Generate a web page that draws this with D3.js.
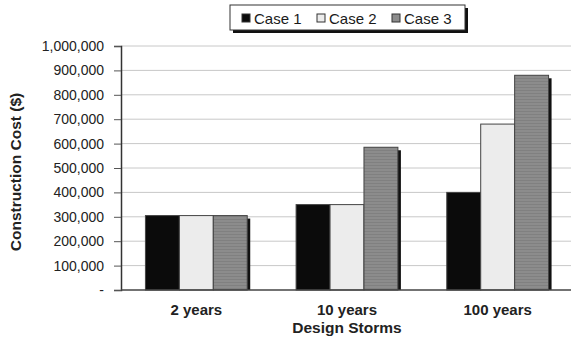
<!DOCTYPE html>
<html>
<head>
<meta charset="utf-8">
<script src="https://cdn.jsdelivr.net/npm/d3@7"></script>
<style>
  html, body { margin: 0; padding: 0; background: #fff; }
  svg { display: block; font-family: "Liberation Sans", Arial, sans-serif; }
</style>
</head>
<body>
<svg id="chart" width="571" height="343"></svg>
<script>
// Construction cost by design storm for three cases
const categories = ["2 years", "10 years", "100 years"];
const seriesNames = ["Case 1", "Case 2", "Case 3"];
const case1 = [305000, 350000, 400000];
const case2 = [305000, 350000, 680000];
const case3 = [305000, 585000, 880000];
const yTicks = [0, 100000, 200000, 300000, 400000, 500000, 600000, 700000, 800000, 900000, 1000000];

const seriesValues = [case1, case2, case3];
const fills = ["#0b0b0b", "#ececec", "#8c8c8c"];

const svg = d3.select("#chart");
const margin = { left: 121, right: -2, top: 46, bottom: 53 };
const W = 571, H = 343;

const x0 = d3.scaleBand().domain(categories).range([margin.left, W - margin.right]).paddingInner(0).paddingOuter(0);
const x1 = d3.scaleBand().domain(seriesNames).range([0, x0.bandwidth()]).paddingInner(0).paddingOuter(0.72);
const y = d3.scaleLinear().domain([0, 1000000]).range([H - margin.bottom, margin.top]);

// horizontal gridlines
svg.append("g").selectAll("line").data(yTicks.slice(1)).join("line")
  .attr("x1", margin.left).attr("x2", W)
  .attr("y1", d => y(d)).attr("y2", d => y(d))
  .attr("stroke", "#c8c8c8").attr("stroke-width", 1);

// gray bar stripe pattern
const defs = svg.append("defs");
const pat = defs.append("pattern").attr("id", "stripe").attr("patternUnits", "userSpaceOnUse")
  .attr("width", 4).attr("height", 3);
pat.append("rect").attr("width", 4).attr("height", 3).attr("fill", "#8c8c8c");
pat.append("rect").attr("width", 4).attr("height", 1).attr("fill", "#808080");

const fillFor = i => i === 2 ? "url(#stripe)" : fills[i];

// bars with a dark drop shadow on the right
const groups = svg.append("g").selectAll("g").data(categories).join("g")
  .attr("transform", c => `translate(${x0(c)},0)`);
groups.each(function (c, ci) {
  const g = d3.select(this);
  seriesNames.forEach((s, si) => {
    const v = seriesValues[si][ci];
    const bx = x1(s), bw = x1.bandwidth();
    g.append("rect")
      .attr("x", bx + 3).attr("y", y(v) + 3)
      .attr("width", bw).attr("height", y(0) - y(v) - 3)
      .attr("fill", "#111");
    g.append("rect")
      .attr("x", bx).attr("y", y(v))
      .attr("width", bw).attr("height", y(0) - y(v))
      .attr("fill", fillFor(si)).attr("stroke", "#444").attr("stroke-width", 1);
  });
});

// y axis
const yAxis = d3.axisLeft(y).tickValues(yTicks).tickSize(7).tickPadding(10)
  .tickFormat(d => d === 0 ? "-" : d3.format(",")(d));
const ya = svg.append("g").attr("transform", `translate(${margin.left},0)`).call(yAxis);
ya.select(".domain").attr("stroke", "#333").attr("stroke-width", 1.5);
ya.selectAll(".tick line").attr("stroke", "#555");
ya.selectAll(".tick text").attr("fill", "#222").attr("font-size", 14)
  .attr("font-family", "'Liberation Sans', Arial, sans-serif");

// x axis baseline
svg.append("line").attr("x1", margin.left).attr("x2", W)
  .attr("y1", y(0)).attr("y2", y(0)).attr("stroke", "#444").attr("stroke-width", 1.5);

// category labels
svg.append("g").selectAll("text").data(categories).join("text")
  .attr("x", c => x0(c) + x0.bandwidth() / 2).attr("y", 315)
  .attr("text-anchor", "middle").attr("font-size", 15).attr("font-weight", "bold")
  .attr("fill", "#222").text(c => c);

// axis titles
svg.append("text").attr("x", x0("10 years") + x0.bandwidth() / 2).attr("y", 333)
  .attr("text-anchor", "middle").attr("font-size", 15.5).attr("font-weight", "bold")
  .attr("fill", "#222").text("Design Storms");
svg.append("text").attr("transform", "translate(21,172) rotate(-90)")
  .attr("text-anchor", "middle").attr("font-size", 15.5).attr("font-weight", "bold")
  .attr("fill", "#222").text("Construction Cost ($)");

// legend
const lg = svg.append("g");
lg.append("rect").attr("x", 233).attr("y", 8).attr("width", 235).attr("height", 25).attr("fill", "#111");
lg.append("rect").attr("x", 230).attr("y", 5).attr("width", 235).attr("height", 25)
  .attr("fill", "#fff").attr("stroke", "#333").attr("stroke-width", 1);
const legendX = [242, 317, 392];
seriesNames.forEach((s, i) => {
  lg.append("rect").attr("x", legendX[i]).attr("y", 14).attr("width", 8).attr("height", 8)
    .attr("fill", fills[i]).attr("stroke", "#333").attr("stroke-width", 1);
  lg.append("text").attr("x", legendX[i] + 12).attr("y", 23.5)
    .attr("font-size", 15).attr("fill", "#1a1a1a").text(s);
});
</script>
</body>
</html>
